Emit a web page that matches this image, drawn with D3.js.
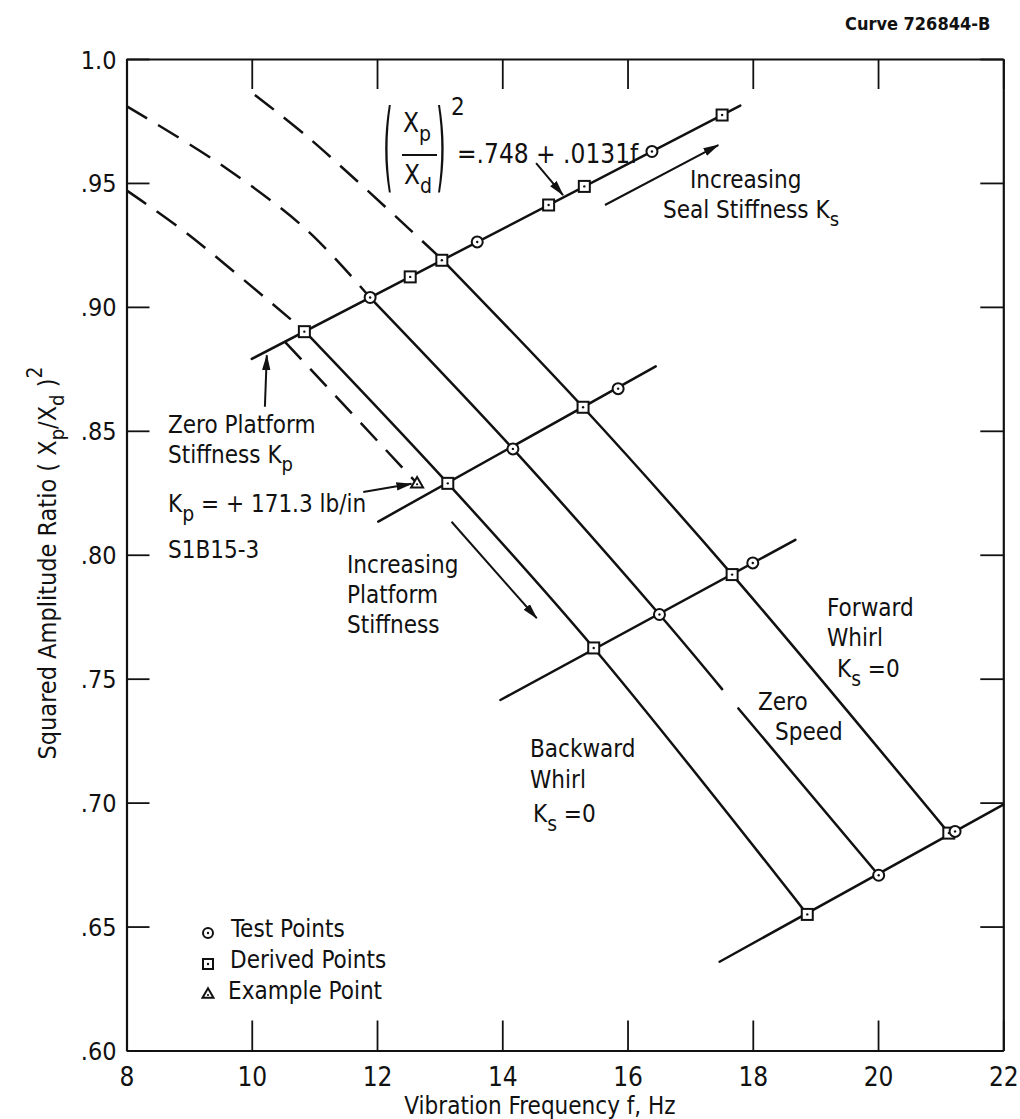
<!DOCTYPE html>
<html>
<head>
<meta charset="utf-8">
<script src="https://cdn.jsdelivr.net/npm/d3@7"></script>
<style>
  body { margin: 0; background: #fff; }
  svg text {
    font-family: "DejaVu Sans Condensed", "Liberation Sans Narrow", "DejaVu Sans", sans-serif;
    fill: #111;
  }
</style>
</head>
<body>
<svg id="chart" width="1020" height="1119"></svg>
<script>
// ---- axis ticks ----
const freqTicks = [8, 10, 12, 14, 16, 18, 20, 22];
const ratioTicks = [0.60, 0.65, 0.70, 0.75, 0.80, 0.85, 0.90, 0.95, 1.00];
const ratioTickLabels = [".60", ".65", ".70", ".75", ".80", ".85", ".90", ".95", "1.0"];

// ---- fitted seal-stiffness line: (Xp/Xd)^2 = .748 + .0131 f ----
const fitIntercept = 0.748;
const fitSlope = 0.0131;
const fitRange = [10.0, 17.8];

// ---- other rising lines (frequency, squared ratio) ----
const risingLine2 = [[12.02, 0.8134], [16.45, 0.8760]];
const risingLine3 = [[13.97, 0.7414], [18.68, 0.8060]];
const risingLine4 = [[17.47, 0.6358], [22.00, 0.6992]];

// ---- whirl curves, Ks = 0 (solid part) ----
const backwardWhirl = [[10.84, 0.8903], [13.13, 0.8288], [15.46, 0.7624], [18.87, 0.6549]];
const zeroSpeedA = [[11.89, 0.9037], [14.17, 0.8427], [16.51, 0.7759], [17.51, 0.7458]];
const zeroSpeedB = [[17.77, 0.7380], [20.01, 0.6707]];
const forwardWhirl = [[13.035, 0.9192], [15.29, 0.8595], [17.67, 0.7920], [21.13, 0.6877]];

// ---- dashed extensions toward low frequency ----
const backwardDashed = [[8.00, 0.947], [8.96, 0.9297], [10.84, 0.8903]];
const zeroSpeedDashed = [[8.00, 0.981], [9.50, 0.9575], [10.88, 0.931], [11.89, 0.9037]];
const forwardDashed = [[10.05, 0.9855], [10.95, 0.9673], [13.035, 0.9192]];
const exampleDashed = [[10.53, 0.8859], [12.64, 0.8288]];

// ---- plotted points ----
const testPoints = [
  [11.89, 0.9038], [13.60, 0.9262], [16.39, 0.9627],
  [14.17, 0.8427], [15.85, 0.8670],
  [16.51, 0.7759], [18.00, 0.7967],
  [20.01, 0.6707], [21.23, 0.6884]
];
const derivedPoints = [
  [10.84, 0.8900], [12.53, 0.9121], [13.035, 0.9188], [14.74, 0.9411], [15.31, 0.9486], [17.51, 0.9774],
  [13.13, 0.8288], [15.29, 0.8595],
  [15.46, 0.7624], [17.67, 0.7920],
  [18.87, 0.6549], [21.13, 0.6877]
];
const examplePoints = [[12.64, 0.8288]];

// ---- scales ----
const svg = d3.select("#chart");
const x = d3.scaleLinear().domain([8, 22]).range([126.5, 1003.3]);
const y = d3.scaleLinear().domain([0.60, 1.00]).range([1050.5, 59]);
const ink = "#111";

// arrowhead
svg.append("defs").append("marker")
  .attr("id", "head")
  .attr("viewBox", "0 0 16 10")
  .attr("refX", 15).attr("refY", 5)
  .attr("markerWidth", 16).attr("markerHeight", 10)
  .attr("markerUnits", "userSpaceOnUse")
  .attr("orient", "auto")
  .append("path").attr("d", "M0,0.8 L16,5 L0,9.2 Z").attr("fill", ink);

// ---- axes (frame with inward ticks) ----
function styleAxis(g) {
  g.attr("font-family", null).attr("font-size", null);
  g.select(".domain").attr("stroke", ink).attr("stroke-width", 2.2);
  g.selectAll(".tick line").attr("stroke", ink).attr("stroke-width", 1.8);
}

svg.append("g")
  .attr("transform", `translate(0,${y(0.60)})`)
  .call(d3.axisBottom(x).tickValues(freqTicks).tickSize(-30).tickSizeOuter(0).tickFormat(d3.format("d")))
  .call(styleAxis)
  .call(g => g.selectAll(".tick text").attr("y", 35).attr("dy", null)
    .style("font-size", "26px").style("fill", ink));

svg.append("g")
  .attr("transform", `translate(0,${y(1.00)})`)
  .call(d3.axisTop(x).tickValues(freqTicks).tickSize(-30).tickSizeOuter(0).tickFormat(""))
  .call(styleAxis);

svg.append("g")
  .attr("transform", `translate(${x(8)},0)`)
  .call(d3.axisLeft(y).tickValues(ratioTicks).tickSize(-23).tickSizeOuter(0)
    .tickFormat((d, i) => ratioTickLabels[i]))
  .call(styleAxis)
  .call(g => g.selectAll(".tick text").attr("x", -10).attr("dy", "0.36em")
    .style("font-size", "25px").style("fill", ink));

svg.append("g")
  .attr("transform", `translate(${x(22)},0)`)
  .call(d3.axisRight(y).tickValues(ratioTicks).tickSize(-23).tickSizeOuter(0).tickFormat(""))
  .call(styleAxis);

// ---- curves ----
const line = d3.line().x(d => x(d[0])).y(d => y(d[1]));
const curve = d3.line().x(d => x(d[0])).y(d => y(d[1])).curve(d3.curveCatmullRom.alpha(0.5));
const plot = svg.append("g").attr("fill", "none").attr("stroke", ink).attr("stroke-linecap", "round");

const fitLine = fitRange.map(f => [f, fitIntercept + fitSlope * f]);
[fitLine, risingLine2, risingLine3, risingLine4].forEach(pts =>
  plot.append("path").attr("d", line(pts)).attr("stroke-width", 2.5));

[backwardWhirl, zeroSpeedA, zeroSpeedB, forwardWhirl].forEach(pts =>
  plot.append("path").attr("d", curve(pts)).attr("stroke-width", 2.5));

[backwardDashed, zeroSpeedDashed, forwardDashed, exampleDashed].forEach(pts =>
  plot.append("path").attr("d", curve(pts)).attr("stroke-width", 2.5)
    .attr("stroke-linecap", "butt").attr("stroke-dasharray", "24 13"));

// ---- point symbols ----
const sym = svg.append("g").attr("stroke", ink).attr("stroke-width", 2);
function circleMark(g, cx, cy, r) {
  g.append("circle").attr("cx", cx).attr("cy", cy).attr("r", r).attr("fill", "#fff");
  g.append("circle").attr("cx", cx).attr("cy", cy).attr("r", 1.2).attr("fill", ink).attr("stroke", "none");
}
function squareMark(g, cx, cy, s) {
  g.append("rect").attr("x", cx - s / 2).attr("y", cy - s / 2).attr("width", s).attr("height", s).attr("fill", "#fff");
  g.append("circle").attr("cx", cx).attr("cy", cy).attr("r", 1.2).attr("fill", ink).attr("stroke", "none");
}
function triangleMark(g, cx, cy, s) {
  const h = s * 0.87;
  g.append("path").attr("d", `M${cx},${cy - h * 0.6} L${cx + s / 2},${cy + h * 0.4} L${cx - s / 2},${cy + h * 0.4} Z`).attr("fill", "#fff");
  g.append("circle").attr("cx", cx).attr("cy", cy + 1).attr("r", 1.1).attr("fill", ink).attr("stroke", "none");
}
derivedPoints.forEach(d => squareMark(sym, x(d[0]), y(d[1]), 11));
testPoints.forEach(d => circleMark(sym, x(d[0]), y(d[1]), 5.5));
examplePoints.forEach(d => triangleMark(sym, x(d[0]), y(d[1]), 12));

// ---- annotation arrows ----
const arrows = [
  [[14.54, 0.958], [14.97, 0.9451]],   // to the fitted line
  [[15.64, 0.9411], [17.45, 0.9653]],  // increasing seal stiffness
  [[10.21, 0.8597], [10.24, 0.8805]],  // zero platform stiffness
  [[11.78, 0.8253], [12.55, 0.8286]],  // example point
  [[13.19, 0.8133], [14.55, 0.7744]]   // increasing platform stiffness
];
arrows.forEach(a => svg.append("path").attr("d", line(a))
  .attr("stroke", ink).attr("stroke-width", 2).attr("fill", "none")
  .attr("marker-end", "url(#head)"));

// ---- text helpers ----
function label(px, py, parts, size) {
  const t = svg.append("text").attr("x", px).attr("y", py).style("font-size", size + "px");
  parts.forEach(p => {
    if (typeof p === "string") t.append("tspan").text(p);
    else t.append("tspan").attr("dy", p.dy).style("font-size", (p.size || size) + "px").text(p.t);
  });
  return t;
}

// title block
label(845, 30, ["Curve 726844-B"], 18).style("font-weight", "bold");

// fitted-line equation
svg.append("text").attr("transform", "translate(383,180) scale(1,3.5)")
  .style("font-size", "28px").text("(");
svg.append("text").attr("transform", "translate(436,180) scale(1,3.5)")
  .style("font-size", "28px").text(")");
label(403, 132, ["X", { t: "p", dy: 9, size: 21 }], 26);
svg.append("line").attr("x1", 402).attr("x2", 437).attr("y1", 155).attr("y2", 155)
  .attr("stroke", ink).attr("stroke-width", 2.2);
label(404, 184, ["X", { t: "d", dy: 9, size: 21 }], 26);
label(451, 115, ["2"], 24);
label(457, 163, ["=.748 + .0131f"], 26);

// seal stiffness
label(690, 188, ["Increasing"], 24);
label(663, 218, ["Seal Stiffness K", { t: "s", dy: 8, size: 20 }], 24);

// zero platform stiffness / example
label(168, 433, ["Zero Platform"], 24);
label(168, 463, ["Stiffness K", { t: "p", dy: 8, size: 20 }], 24);
label(168, 512, ["K", { t: "p", dy: 9, size: 21 }, { t: " = + 171.3 lb/in", dy: -9 }], 24);
label(168, 558, ["S1B15-3"], 24);

// platform stiffness
label(347, 573, ["Increasing"], 24);
label(347, 603, ["Platform"], 24);
label(347, 633, ["Stiffness"], 24);

// whirl labels
label(530, 757, ["Backward"], 24);
label(530, 788, ["Whirl"], 24);
label(533, 822, ["K", { t: "s", dy: 9, size: 21 }, { t: " =0", dy: -9 }], 24);

label(758, 710, ["Zero"], 24);
label(775, 740, ["Speed"], 24);

label(827, 616, ["Forward"], 24);
label(827, 646, ["Whirl"], 24);
label(837, 677, ["K", { t: "s", dy: 9, size: 21 }, { t: " =0", dy: -9 }], 24);

// ---- legend ----
const leg = svg.append("g").attr("stroke", ink).attr("stroke-width", 2);
circleMark(leg, 208, 933, 5);
squareMark(leg, 208, 964, 10);
triangleMark(leg, 208, 994, 11);
label(231, 937, ["Test Points"], 24);
label(230, 968, ["Derived Points"], 24);
label(228, 999, ["Example Point"], 24);

// ---- axis titles ----
label(540, 1114, ["Vibration Frequency f, Hz"], 24).attr("text-anchor", "middle");

svg.append("text")
  .attr("transform", "translate(56,563) rotate(-90)")
  .attr("text-anchor", "middle")
  .style("font-size", "25px")
  .call(t => {
    t.append("tspan").text("Squared Amplitude Ratio ( X");
    t.append("tspan").attr("dy", 8).style("font-size", "20px").text("p");
    t.append("tspan").attr("dy", -8).text("/X");
    t.append("tspan").attr("dy", 8).style("font-size", "20px").text("d");
    t.append("tspan").attr("dy", -8).text(" )");
    t.append("tspan").attr("dy", -14).style("font-size", "21px").text("2");
  });
</script>
</body>
</html>
